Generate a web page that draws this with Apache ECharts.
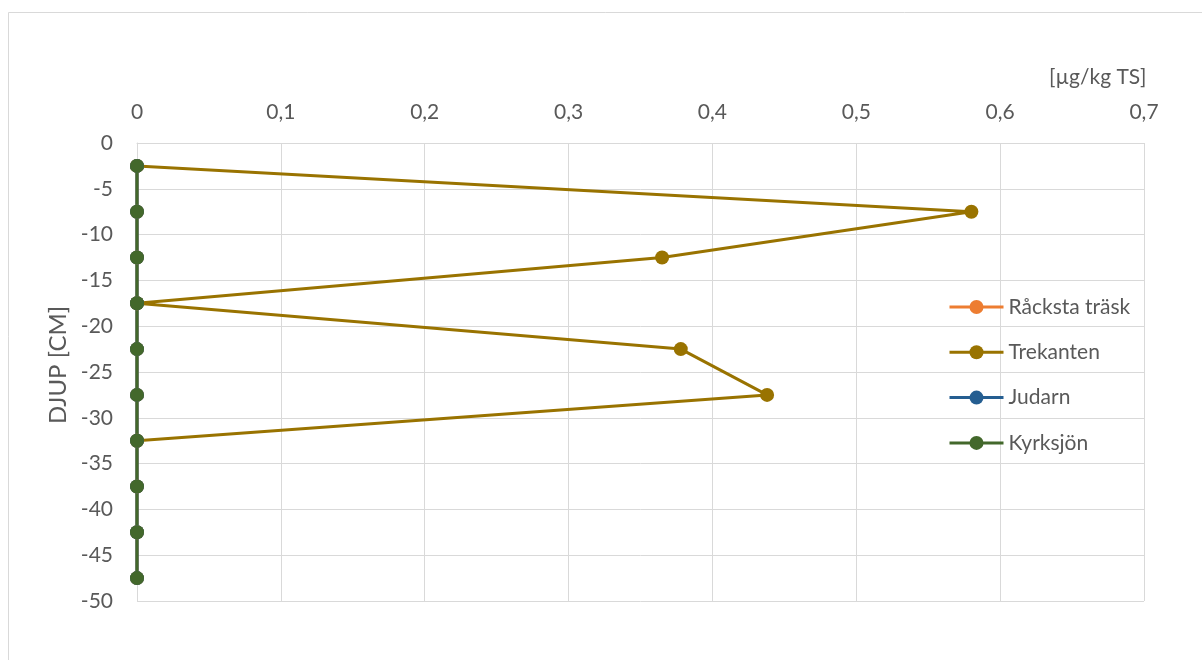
<!DOCTYPE html>
<html>
<head>
<meta charset="utf-8">
<script src="https://cdn.jsdelivr.net/npm/echarts@6/dist/echarts.min.js"></script>
<style>
html,body{margin:0;padding:0;background:#fff;}
#c{width:1202px;height:660px;}
</style>
</head>
<body>
<div id="c"></div>
<script>
const depths = [-2.5, -7.5, -12.5, -17.5, -22.5, -27.5, -32.5, -37.5, -42.5, -47.5];
const rackstaTrask = [0, 0, 0, 0, 0, 0, 0, 0, 0, 0];
const trekanten = [0, 0.58, 0.365, 0, 0.378, 0.438, 0];
const judarn = [0, 0, 0, 0, 0, 0, 0, 0, 0, 0];
const kyrksjon = [0, 0, 0, 0, 0, 0, 0, 0, 0, 0];
const seriesNames = ['Råcksta träsk', 'Trekanten', 'Judarn', 'Kyrksjön'];
const seriesColors = ['#ED7D31', '#997300', '#255E91', '#43682B'];
const xUnit = '[µg/kg TS]';
const yTitle = 'DJUP [CM]';

const FONT = 'Lato';
const FS = 21;
const TXT = '#595959';
const GRIDC = '#d9d9d9';

function pairs(vals) { return vals.map((v, i) => [v, depths[i]]); }
const allVals = [rackstaTrask, trekanten, judarn, kyrksjon];

const chart = echarts.init(document.getElementById('c'));
chart.setOption({
  animation: false,
  backgroundColor: '#fff',
  textStyle: { fontFamily: FONT },
  graphic: [{
    type: 'rect', silent: true, z: -10,
    shape: { x: 8.5, y: 12.5, width: 1400, height: 900 },
    style: { fill: 'none', stroke: GRIDC, lineWidth: 1 }
  }],
  title: {
    text: xUnit, left: 1049, top: 67, padding: 0,
    textStyle: { fontFamily: FONT, fontSize: FS, fontWeight: 'normal', color: TXT }
  },
  grid: { left: 137, right: 58, top: 143, bottom: 59 },
  legend: {
    orient: 'vertical', left: 948, top: 296, padding: 0,
    itemWidth: 54, itemHeight: 17.5, itemGap: 23.3,
    lineStyle: { width: 3 },
    textStyle: { fontFamily: FONT, fontSize: FS, color: TXT, lineHeight: 22 },
    data: seriesNames
  },
  xAxis: {
    type: 'value', position: 'top', min: 0, max: 0.7, interval: 0.1,
    axisLine: { show: true, lineStyle: { color: GRIDC } },
    axisTick: { show: false },
    splitLine: { show: true, lineStyle: { color: GRIDC, width: 1 } },
    axisLabel: {
      margin: 20, fontFamily: FONT, fontSize: FS, color: TXT,
      formatter: v => String(Math.round(v * 10) / 10).replace('.', ',')
    }
  },
  yAxis: {
    type: 'value', min: -50, max: 0, interval: 5,
    name: yTitle, nameLocation: 'middle', nameRotate: 90, nameGap: 67,
    nameTextStyle: { fontFamily: FONT, fontSize: 24, color: TXT, padding: [0, 0, 0, 14] },
    axisLine: { show: true, lineStyle: { color: GRIDC } },
    axisTick: { show: false },
    splitLine: { show: true, lineStyle: { color: GRIDC, width: 1 } },
    axisLabel: { margin: 24, fontFamily: FONT, fontSize: FS, color: TXT }
  },
  series: seriesNames.map((n, i) => ({
    name: n, type: 'line', data: pairs(allVals[i]),
    symbol: 'circle', symbolSize: 14,
    lineStyle: { color: seriesColors[i], width: 3 },
    itemStyle: { color: seriesColors[i] },
    clip: false
  }))
});
</script>
</body>
</html>
